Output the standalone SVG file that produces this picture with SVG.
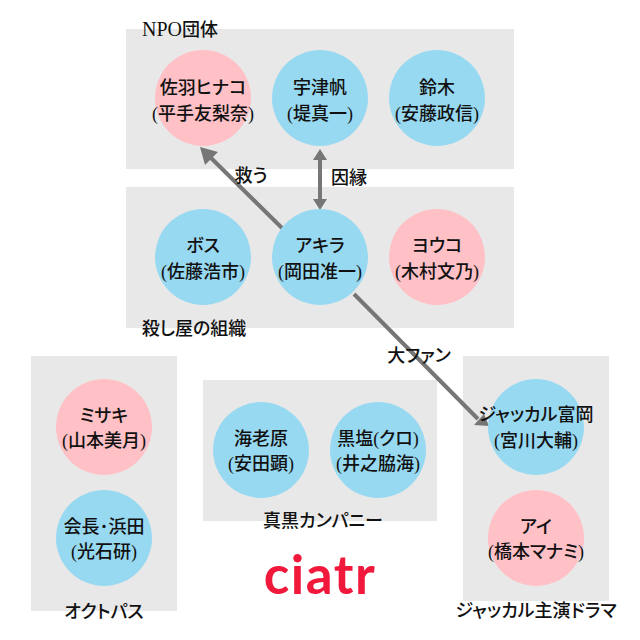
<svg xmlns="http://www.w3.org/2000/svg" width="640" height="640" viewBox="0 0 640 640">
<style>
.g{fill:#e8e8e8}
.b{fill:#98d9f2}
.p{fill:#ffc0c6}
text{font-family:"Liberation Serif","Noto Sans CJK JP",sans-serif;font-size:18px;fill:#111;text-anchor:middle;font-feature-settings:"palt";font-weight:500}
.l{stroke:#767676;stroke-width:4;fill:none}
.h{fill:#767676}
</style>
<rect width="640" height="640" fill="#fff"/>
<g id="groups">
<rect class="g" x="126" y="29" width="388" height="140"/>
<rect class="g" x="126" y="187" width="388" height="141"/>
<rect class="g" x="31" y="356" width="146" height="255"/>
<rect class="g" x="203" y="380" width="234" height="141"/>
<rect class="g" x="463" y="356" width="146" height="245"/>
</g>
<g id="connectors">
<line class="l" x1="282" y1="228" x2="208" y2="155"/>
<polygon class="h" points="200,147 218,152 205,165"/>
<line class="l" x1="320" y1="155" x2="320" y2="203"/>
<polygon class="h" points="320,149 327,160 313,160"/>
<polygon class="h" points="320,210 313,199 327,199"/>
<line class="l" x1="354" y1="294" x2="478" y2="419"/>
<polygon class="h" points="489,426 474,425 484,414"/>
</g>
<g id="n1"><circle class="p" cx="203" cy="98" r="48"/><text x="203" y="94">佐羽ヒナコ</text><text x="203" y="120">(平手友梨奈)</text></g>
<g id="n2"><circle class="b" cx="320" cy="98" r="48"/><text x="320" y="94">宇津帆</text><text x="320" y="120">(堤真一)</text></g>
<g id="n3"><circle class="b" cx="437" cy="98" r="48"/><text x="437" y="94">鈴木</text><text x="437" y="120">(安藤政信)</text></g>
<g id="n4"><circle class="b" cx="203" cy="257" r="48"/><text x="203" y="252">ボス</text><text x="203" y="278">(佐藤浩市)</text></g>
<g id="n5"><circle class="b" cx="320" cy="257" r="48"/><text x="320" y="252">アキラ</text><text x="320" y="278">(岡田准一)</text></g>
<g id="n6"><circle class="p" cx="437" cy="257" r="48"/><text x="437" y="252">ヨウコ</text><text x="437" y="278">(木村文乃)</text></g>
<g id="n7"><circle class="p" cx="104" cy="427" r="48"/><text x="104" y="422">ミサキ</text><text x="104" y="447">(山本美月)</text></g>
<g id="n8"><circle class="b" cx="104" cy="538" r="48"/><text x="104" y="533">会長･浜田</text><text x="104" y="558">(光石研)</text></g>
<g id="n9"><circle class="b" cx="261" cy="450" r="48"/><text x="261" y="445">海老原</text><text x="261" y="470">(安田顕)</text></g>
<g id="n10"><circle class="b" cx="378" cy="450" r="48"/><text x="378" y="445">黒塩(クロ)</text><text x="378" y="470">(井之脇海)</text></g>
<g id="n11"><circle class="b" cx="536" cy="427" r="48"/><text x="536" y="421">ジャッカル富岡</text><text x="536" y="447">(宮川大輔)</text></g>
<g id="n12"><circle class="p" cx="536" cy="538" r="48"/><text x="536" y="533">アイ</text><text x="536" y="558">(橋本マナミ)</text></g>
<g id="labels">
<text x="180" y="36"><tspan font-size="20">NPO</tspan>団体</text>
<text x="194" y="335">殺し屋の組織</text>
<text x="251" y="182">救う</text>
<text x="349" y="184">因縁</text>
<text x="419" y="362">大ファン</text>
<text x="323" y="527">真黒カンパニー</text>
<text x="104" y="618">オクトパス</text>
<text x="536" y="617">ジャッカル主演ドラマ</text>
</g>
<text id="logo" x="320" y="594" style="font-family:Lato,sans-serif;font-size:53px;font-weight:700;fill:#f0193c;letter-spacing:1.5px;font-feature-settings:normal">ciatr</text>
</svg>
